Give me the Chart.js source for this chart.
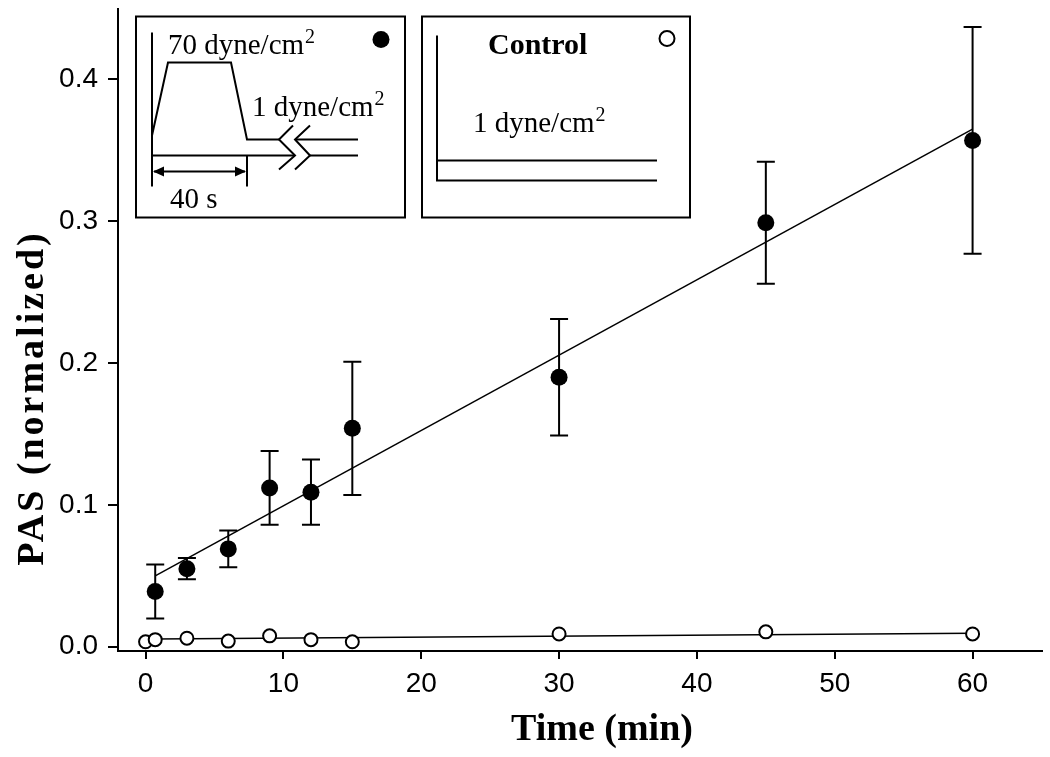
<!DOCTYPE html>
<html>
<head>
<meta charset="utf-8">
<script src="https://cdn.jsdelivr.net/npm/chart.js@4"></script>
<style>
  body { margin: 0; background: #fff; }
  #wrap { width: 1050px; height: 757px; }
</style>
</head>
<body>
<div id="wrap"><canvas id="chartPas"></canvas></div>
<script>
// stimulated (70 dyne/cm2 pulse) series
const timeStim = [0.7, 3, 6, 9, 12, 15, 30, 45, 60];
const pasStim = [0.039, 0.055, 0.069, 0.112, 0.109, 0.154, 0.190, 0.299, 0.357];
const errStim = [0.019, 0.0075, 0.013, 0.026, 0.023, 0.047, 0.041, 0.043, 0.080];

// control (1 dyne/cm2) series
const timeCtrl = [0, 0.7, 3, 6, 9, 12, 15, 30, 45, 60];
const pasCtrl = [0.0035, 0.005, 0.006, 0.004, 0.0077, 0.005, 0.0035, 0.009, 0.0105, 0.009];

// linear fits
const fitTime = [0.7, 60];
const fitStim = [0.050, 0.365];
const fitCtrl = [0.0055, 0.0095];

const xTicks = [0, 10, 20, 30, 40, 50, 60];
const yTicks = [0, 0.1, 0.2, 0.3, 0.4];

const toPts = (xs, ys) => xs.map((x, i) => ({ x: x, y: ys[i] }));

const errorBars = {
  id: 'errorBars',
  beforeDatasetsDraw(chart) {
    const { ctx, scales: { x, y } } = chart;
    ctx.save();
    ctx.strokeStyle = '#000';
    ctx.lineWidth = 2;
    timeStim.forEach((t, i) => {
      const px = x.getPixelForValue(t);
      const top = y.getPixelForValue(pasStim[i] + errStim[i]);
      const bot = y.getPixelForValue(pasStim[i] - errStim[i]);
      ctx.beginPath();
      ctx.moveTo(px, top); ctx.lineTo(px, bot);
      ctx.moveTo(px - 9, top); ctx.lineTo(px + 9, top);
      ctx.moveTo(px - 9, bot); ctx.lineTo(px + 9, bot);
      ctx.stroke();
    });
    ctx.restore();
  }
};

function poly(ctx, pts) {
  ctx.beginPath();
  ctx.moveTo(pts[0][0], pts[0][1]);
  for (let i = 1; i < pts.length; i++) ctx.lineTo(pts[i][0], pts[i][1]);
  ctx.stroke();
}

// text with a raised "2" (cm2)
function unitText(ctx, base, x, y) {
  ctx.font = '29px "Liberation Serif"';
  ctx.fillText(base, x, y);
  const w = ctx.measureText(base).width;
  ctx.font = '20px "Liberation Serif"';
  ctx.fillText('2', x + w + 1, y - 11);
}

const insets = {
  id: 'insets',
  afterDraw(chart) {
    const { ctx, chartArea } = chart;
    const L = chartArea.left, T = chartArea.top;
    ctx.save();
    ctx.strokeStyle = '#000';
    ctx.fillStyle = '#000';
    ctx.lineWidth = 2;
    ctx.textBaseline = 'alphabetic';
    ctx.textAlign = 'left';

    // box 1: pulse protocol
    const a = L + 18, b = T + 8;
    ctx.fillStyle = '#fff';
    ctx.fillRect(a, b, 269, 201);
    ctx.strokeRect(a, b, 269, 201);
    ctx.fillStyle = '#000';
    poly(ctx, [[a + 16, b + 16], [a + 16, b + 170]]);
    poly(ctx, [[a + 16, b + 119], [a + 32, b + 46], [a + 95, b + 46], [a + 111, b + 123], [a + 143, b + 123]]);
    poly(ctx, [[a + 159, b + 123], [a + 222, b + 123]]);
    poly(ctx, [[a + 16, b + 139], [a + 159, b + 139]]);
    poly(ctx, [[a + 174, b + 139], [a + 222, b + 139]]);
    poly(ctx, [[a + 157, b + 109], [a + 143, b + 123], [a + 159, b + 139], [a + 143, b + 153]]);
    poly(ctx, [[a + 174, b + 109], [a + 159, b + 123], [a + 174, b + 139], [a + 159, b + 153]]);
    poly(ctx, [[a + 111, b + 139], [a + 111, b + 170]]);
    poly(ctx, [[a + 18, b + 155], [a + 109, b + 155]]);
    ctx.beginPath();
    ctx.moveTo(a + 17, b + 155); ctx.lineTo(a + 28, b + 150); ctx.lineTo(a + 28, b + 160); ctx.closePath();
    ctx.moveTo(a + 110, b + 155); ctx.lineTo(a + 99, b + 150); ctx.lineTo(a + 99, b + 160); ctx.closePath();
    ctx.fill();
    unitText(ctx, '70 dyne/cm', a + 32, b + 37);
    unitText(ctx, '1 dyne/cm', a + 116, b + 99);
    ctx.font = '29px "Liberation Serif"';
    ctx.fillText('40 s', a + 34, b + 191);
    ctx.beginPath();
    ctx.arc(a + 245, b + 23, 8.5, 0, Math.PI * 2);
    ctx.fill();

    // box 2: control
    const c = L + 304;
    ctx.fillStyle = '#fff';
    ctx.fillRect(c, b, 268, 201);
    ctx.strokeRect(c, b, 268, 201);
    ctx.fillStyle = '#000';
    poly(ctx, [[c + 15, b + 19], [c + 15, b + 164], [c + 235, b + 164]]);
    poly(ctx, [[c + 15, b + 144], [c + 235, b + 144]]);
    ctx.font = 'bold 30px "Liberation Serif"';
    ctx.fillText('Control', c + 66, b + 37);
    unitText(ctx, '1 dyne/cm', c + 51, b + 115);
    ctx.fillStyle = '#fff';
    ctx.beginPath();
    ctx.arc(c + 245, b + 22, 7.5, 0, Math.PI * 2);
    ctx.fill();
    ctx.stroke();

    // axis titles
    ctx.fillStyle = '#000';
    ctx.font = 'bold 38px "Liberation Serif"';
    ctx.textAlign = 'center';
    ctx.fillText('Time (min)', 602, 740);
    ctx.translate(43, 398);
    ctx.rotate(-Math.PI / 2);
    ctx.letterSpacing = '3px';
    ctx.fillText('PAS (normalized)', 0, 0);
    ctx.restore();
  }
};

const tickFont = { family: '"Liberation Sans", Arial, sans-serif', size: 28 };

const noPad = s => { s.paddingTop = 0; s.paddingBottom = 0; s.paddingLeft = 0; s.paddingRight = 0; };

new Chart(document.getElementById('chartPas'), {
  type: 'scatter',
  data: {
    datasets: [
      {
        label: '70 dyne/cm2',
        data: toPts(timeStim, pasStim),
        pointRadius: 8.5,
        backgroundColor: '#000',
        borderColor: '#000',
        borderWidth: 0,
        order: 0
      },
      {
        label: 'Control',
        data: toPts(timeCtrl, pasCtrl),
        pointRadius: 6.5,
        backgroundColor: '#fff',
        borderColor: '#000',
        borderWidth: 2,
        order: 0
      },
      {
        label: 'Fit 70 dyne/cm2',
        data: toPts(fitTime, fitStim),
        showLine: true,
        pointRadius: 0,
        borderColor: '#000',
        borderWidth: 1.5,
        order: 2
      },
      {
        label: 'Fit control',
        data: toPts(fitTime, fitCtrl),
        showLine: true,
        pointRadius: 0,
        borderColor: '#000',
        borderWidth: 1.5,
        order: 2
      }
    ]
  },
  options: {
    responsive: true,
    maintainAspectRatio: false,
    animation: false,
    layout: { padding: { left: 59, right: 8, top: 5, bottom: 56 } },
    plugins: { legend: { display: false }, tooltip: { enabled: false } },
    scales: {
      x: {
        type: 'linear',
        min: -2,
        max: 65,
        afterBuildTicks: s => { s.ticks = xTicks.map(v => ({ value: v })); },
        afterFit: s => { s.height = 50; noPad(s); },
        ticks: { font: tickFont, color: '#000', padding: 8, maxRotation: 0, callback: v => String(v) },
        grid: { drawOnChartArea: false, tickLength: 8, color: '#000', lineWidth: 2 },
        border: { color: '#000', width: 2 }
      },
      y: {
        type: 'linear',
        min: -0.003,
        max: 0.45,
        afterBuildTicks: s => { s.ticks = yTicks.map(v => ({ value: v })); },
        afterFit: s => { s.width = 59; noPad(s); },
        ticks: { font: tickFont, color: '#000', padding: 10, callback: v => v.toFixed(1) },
        grid: { drawOnChartArea: false, tickLength: 10, color: '#000', lineWidth: 2 },
        border: { color: '#000', width: 2 }
      }
    }
  },
  plugins: [errorBars, insets]
});
</script>
</body>
</html>
